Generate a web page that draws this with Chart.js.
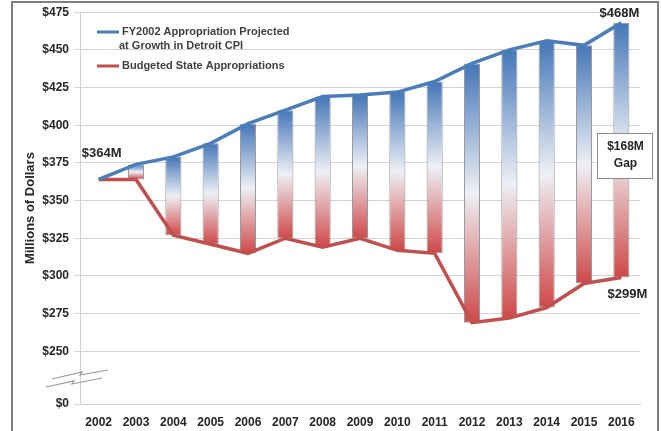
<!DOCTYPE html>
<html>
<head>
<meta charset="utf-8">
<script src="https://cdn.jsdelivr.net/npm/chart.js@4"></script>
<style>
  html, body { margin: 0; padding: 0; background: #fff; }
  #wrap { width: 661px; height: 431px; position: relative; }
</style>
</head>
<body>
<div id="wrap"><canvas id="gapChart" width="661" height="431"></canvas></div>
<script>
// --- data ---
const years = ['2002','2003','2004','2005','2006','2007','2008','2009','2010','2011','2012','2013','2014','2015','2016'];
const projected = [364, 374, 379, 388, 401, 410, 419, 420, 422, 429, 441, 450, 456, 453, 468];
const budgeted  = [364, 364, 327, 321, 315, 325, 319, 325, 317, 315, 269, 272, 279, 295, 299];
// axis is broken between $250 and $0; the $0 tick sits at this value on the linear scale
const zeroAt = 215;
const tickValues = [zeroAt, 250, 275, 300, 325, 350, 375, 400, 425, 450, 475];

const BLUE = '#4a7ebb';
const RED = '#c0504d';
const TEXT = '#262626';
const FONT = '"Liberation Sans", Arial, sans-serif';

const gapBars = years.map((y, i) => [budgeted[i], projected[i]]);

// frame, legend, annotations and the axis break mark
const decor = {
  id: 'decor',
  afterDraw(chart) {
    const c = chart.ctx;
    const x = chart.scales.x, y = chart.scales.y;
    c.save();

    // outer frame
    c.strokeStyle = '#7f7f7f';
    c.lineWidth = 2;
    c.strokeRect(12, 2, 646, 436);

    // legend
    c.font = 'bold 11px ' + FONT;
    c.fillStyle = '#404040';
    c.textBaseline = 'middle';
    c.lineWidth = 3;
    c.strokeStyle = BLUE;
    c.beginPath(); c.moveTo(97, 32); c.lineTo(119, 32); c.stroke();
    c.fillText('FY2002 Appropriation Projected', 122, 32);
    c.fillText('at Growth in Detroit CPI', 119, 46);
    c.strokeStyle = RED;
    c.beginPath(); c.moveTo(97, 66); c.lineTo(119, 66); c.stroke();
    c.fillText('Budgeted State Appropriations', 122, 66);

    // value labels
    c.fillStyle = TEXT;
    c.font = 'bold 13px ' + FONT;
    c.textAlign = 'center';
    c.fillText('$364M', x.getPixelForValue(0) + 3, y.getPixelForValue(375) - 9);
    c.fillText('$468M', x.getPixelForValue(14) - 2, 13);
    c.fillText('$299M', x.getPixelForValue(14) + 6, y.getPixelForValue(288));

    // gap box
    const bx = 597, by = 133, bw = 55, bh = 45;
    c.fillStyle = '#fff';
    c.fillRect(bx, by, bw, bh);
    c.strokeStyle = '#8c8c8c';
    c.lineWidth = 1;
    c.strokeRect(bx + 0.5, by + 0.5, bw, bh);
    c.fillStyle = TEXT;
    c.font = 'bold 12px ' + FONT;
    c.fillText('$168M', bx + bw / 2 + 1, by + 14);
    c.fillText('Gap', bx + bw / 2 + 1, by + 31);

    // axis break mark
    c.strokeStyle = '#9a9a9a';
    c.lineWidth = 1.2;
    c.beginPath();
    c.moveTo(52, 379); c.lineTo(82, 372); c.lineTo(80, 375); c.lineTo(108, 370);
    c.moveTo(46, 387); c.lineTo(74, 381); c.lineTo(72, 384); c.lineTo(102, 378);
    c.stroke();
    c.restore();
  }
};

const ctx = document.getElementById('gapChart').getContext('2d');
new Chart(ctx, {
  data: {
    labels: years,
    datasets: [
      {
        type: 'line',
        label: 'FY2002 Appropriation Projected at Growth in Detroit CPI',
        data: projected,
        borderColor: BLUE,
        borderWidth: 3.5,
        pointRadius: 0,
        tension: 0,
        order: 0
      },
      {
        type: 'line',
        label: 'Budgeted State Appropriations',
        data: budgeted,
        borderColor: RED,
        borderWidth: 3.5,
        pointRadius: 0,
        tension: 0,
        order: 0
      },
      {
        type: 'bar',
        label: 'Gap',
        data: gapBars,
        borderColor: 'rgba(110,110,120,0.7)',
        borderWidth: 1,
        borderSkipped: false,
        categoryPercentage: 1,
        barPercentage: 0.43,
        order: 1,
        backgroundColor: (context) => {
          const chart = context.chart;
          if (!chart.chartArea || context.type !== 'data') return 'transparent';
          const v = context.raw;
          const ys = chart.scales.y;
          const top = ys.getPixelForValue(v[1]);
          const bot = ys.getPixelForValue(v[0]);
          if (bot - top < 2) return BLUE;
          const g = chart.ctx.createLinearGradient(0, top, 0, bot);
          g.addColorStop(0, '#4476b8');
          g.addColorStop(0.5, '#eef0f5');
          g.addColorStop(1, '#cf4848');
          return g;
        }
      }
    ]
  },
  options: {
    responsive: false,
    animation: false,
    layout: { padding: { left: 0, top: 12, right: 21, bottom: 0 } },
    plugins: {
      legend: { display: false },
      tooltip: { enabled: false }
    },
    scales: {
      x: {
        grid: { display: false },
        border: { color: '#d0d0d0' },
        ticks: {
          color: TEXT,
          padding: 3,
          maxRotation: 0,
          font: { family: FONT, size: 12, weight: 'bold' }
        },
        afterFit(scale) { scale.height = 27; }
      },
      y: {
        min: zeroAt,
        max: 475,
        afterBuildTicks(scale) { scale.ticks = tickValues.map(v => ({ value: v })); },
        grid: { color: '#d4d4d4', tickLength: 6 },
        border: { color: '#d0d0d0' },
        ticks: {
          color: TEXT,
          padding: 5,
          font: { family: FONT, size: 12, weight: 'bold' },
          callback: (v) => v === zeroAt ? '$0' : '$' + v
        },
        title: {
          display: true,
          text: 'Millions of Dollars',
          color: TEXT,
          padding: { top: 23, bottom: 0 },
          font: { family: FONT, size: 13, weight: 'bold' }
        },
        afterFit(scale) { scale.width = 80; }
      }
    }
  },
  plugins: [decor]
});
</script>
</body>
</html>
